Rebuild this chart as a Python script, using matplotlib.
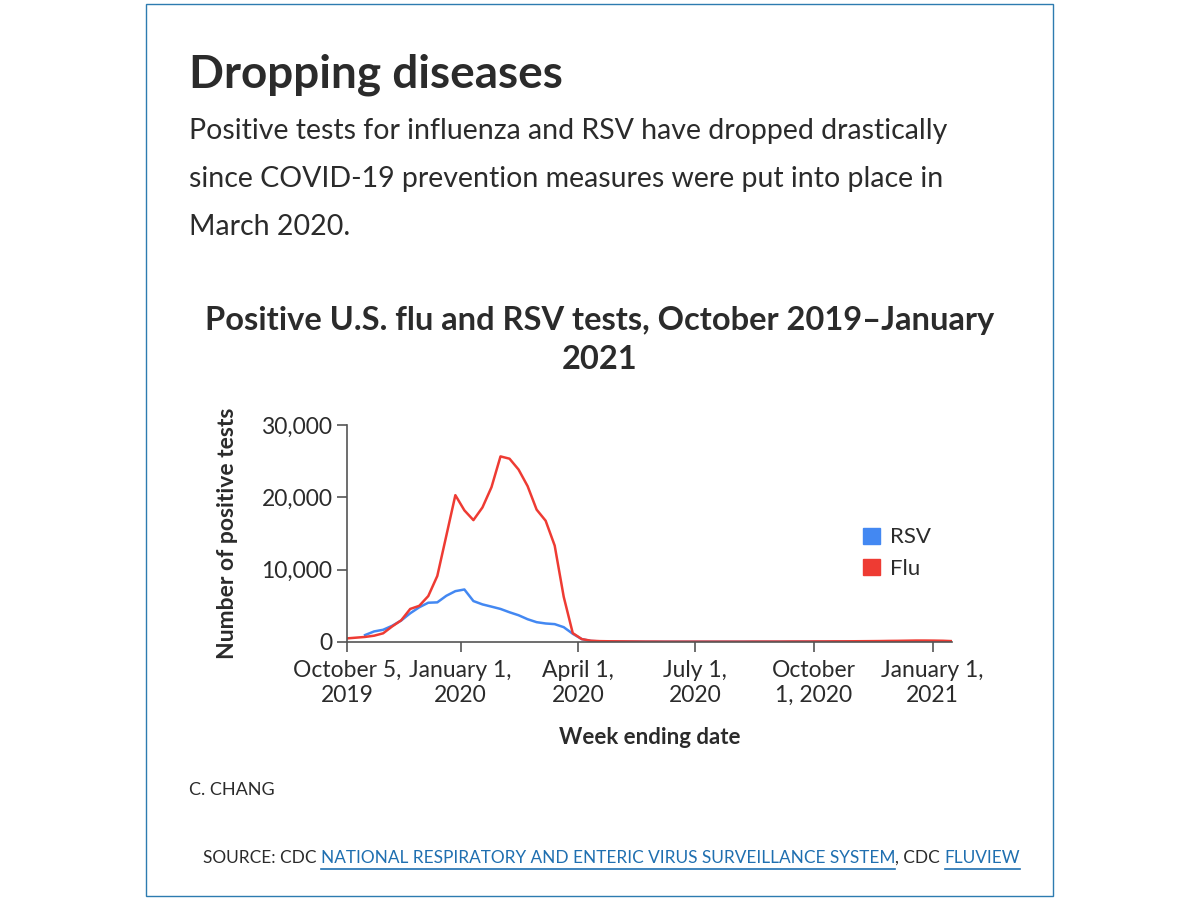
import numpy as np
import pandas as pd
import matplotlib
matplotlib.use("Agg")
import matplotlib.pyplot as plt
from matplotlib.patches import Rectangle
from matplotlib.lines import Line2D

plt.rcParams['font.family'] = ['Lato', 'DejaVu Sans']

# weekly counts, week ending dates from Oct 5 2019
flu = [500, 600, 700, 870, 1200, 2150, 3000, 4570, 5000, 6350,
       9130, 14700, 20300, 18200, 16850, 18600, 21400, 25660, 25340, 23840,
       21550, 18300, 16760, 13330, 6250, 1230, 400, 180, 120, 100,
       90, 80, 70, 60, 60, 50, 50, 50, 50, 50,
       50, 50, 50, 50, 50, 60, 60, 60, 60, 70,
       70, 70, 80, 80, 90, 90, 100, 110, 120, 130,
       150, 160, 180, 200, 200, 190, 170, 120]
rsv = [960, 1460, 1690, 2240, 2970, 3970, 4800, 5430, 5480, 6390,
       7030, 7260, 5660, 5200, 4890, 4570, 4110, 3700, 3150, 2740,
       2560, 2470, 2050, 1140, 400, 140, 80, 60, 50, 40,
       40, 30, 30, 30, 30, 30, 30, 30, 30, 30,
       30, 30, 30, 30, 30, 30, 30, 30, 40, 40,
       40, 40, 50, 50, 50, 60, 60, 60, 70, 70,
       70, 70, 60, 60, 50, 40]
flu_dates = pd.date_range('2019-10-05', periods=len(flu), freq='7D')
rsv_dates = pd.date_range('2019-10-19', periods=len(rsv), freq='7D')

tick_dates = pd.to_datetime(['2019-10-05', '2020-01-01', '2020-04-01',
                             '2020-07-01', '2020-10-01', '2021-01-01'])
tick_labels = ["October 5,\n2019", "January 1,\n2020", "April 1,\n2020",
               "July 1,\n2020", "October\n1, 2020", "January 1,\n2021"]

txt = '#2b2b2b'
red = '#ee3b33'
blue = '#4388f2'

fig = plt.figure(figsize=(12, 9), dpi=100)
fig.patches.append(Rectangle((146/1200, 1-896/900), 907/1200, 892/900,
                             transform=fig.transFigure, fill=False,
                             edgecolor='#2d7bb0', linewidth=1))

fig.text(189/1200, 1-75/900, "Dropping diseases", fontsize=33, fontweight='bold',
         color=txt, va='center', ha='left')
sub = ["Positive tests for influenza and RSV have dropped drastically",
       "since COVID-19 prevention measures were put into place in",
       "March 2020."]
for i, s in enumerate(sub):
    fig.text(189/1200, 1-(131+48*i)/900, s, fontsize=20.5, color=txt, va='center', ha='left')

fig.text(600/1200, 1-340/900, "Positive U.S. flu and RSV tests, October 2019\u2013January\n2021",
         fontsize=23.5, fontweight='bold', color=txt, ha='center', va='center',
         linespacing=1.38)

ax = fig.add_axes([347/1200, 1-642/900, (952-347)/1200, (642-425)/900])
ax.plot(rsv_dates, rsv, color=blue, lw=1.8, label='RSV')
ax.plot(flu_dates, flu, color=red, lw=1.8, label='Flu')
ax.set_xlim(flu_dates[0], flu_dates[-1])
ax.set_ylim(0, 30000)
ax.set_yticks([0, 10000, 20000, 30000])
ax.set_yticklabels(['0', '10,000', '20,000', '30,000'])
ax.set_xticks(tick_dates)
ax.set_xticklabels(tick_labels, linespacing=1.25)
for s in ['top', 'right']:
    ax.spines[s].set_visible(False)
for s in ['left', 'bottom']:
    ax.spines[s].set_color('#555555')
    ax.spines[s].set_linewidth(1.2)
ax.tick_params(colors='#555555', labelcolor=txt, labelsize=16.5, length=7, width=1.2)
ax.tick_params(axis='x', pad=6)
ax.set_ylabel("Number of positive tests", fontsize=16.5, fontweight='bold', color=txt, labelpad=17)
ax.set_xlabel("Week ending date", fontsize=16, fontweight='bold', color=txt, labelpad=15)

handles = [Rectangle((0, 0), 1, 1, color=blue), Rectangle((0, 0), 1, 1, color=red)]
ax.legend(handles, ['RSV', 'Flu'], loc='upper left', bbox_to_anchor=(0.82, 0.62),
          frameon=False, fontsize=16, handlelength=0.75, handleheight=0.75,
          handletextpad=0.45, labelspacing=0.5, labelcolor=txt)

fig.text(189/1200, 1-790/900, "C. CHANG", fontsize=13, color=txt, va='center', ha='left')

# source line with underlined links
link = '#1f6fb0'
parts = [("SOURCE: CDC ", txt, False),
         ("NATIONAL RESPIRATORY AND ENTERIC VIRUS SURVEILLANCE SYSTEM", link, True),
         (", CDC ", txt, False),
         ("FLUVIEW", link, True)]
fig.canvas.draw()
r = fig.canvas.get_renderer()
x = 203
y = 1-858/900
for s, c, u in parts:
    t = fig.text(x/1200, y, s, fontsize=12.4, color=c, va='center', ha='left')
    bb = t.get_window_extent(r)
    if u:
        fig.add_artist(Line2D([bb.x0/1200, bb.x1/1200], [(bb.y0-3)/900]*2,
                              transform=fig.transFigure, color=link, lw=1.2))
    x = bb.x1

fig.savefig('out.png', dpi=100)
